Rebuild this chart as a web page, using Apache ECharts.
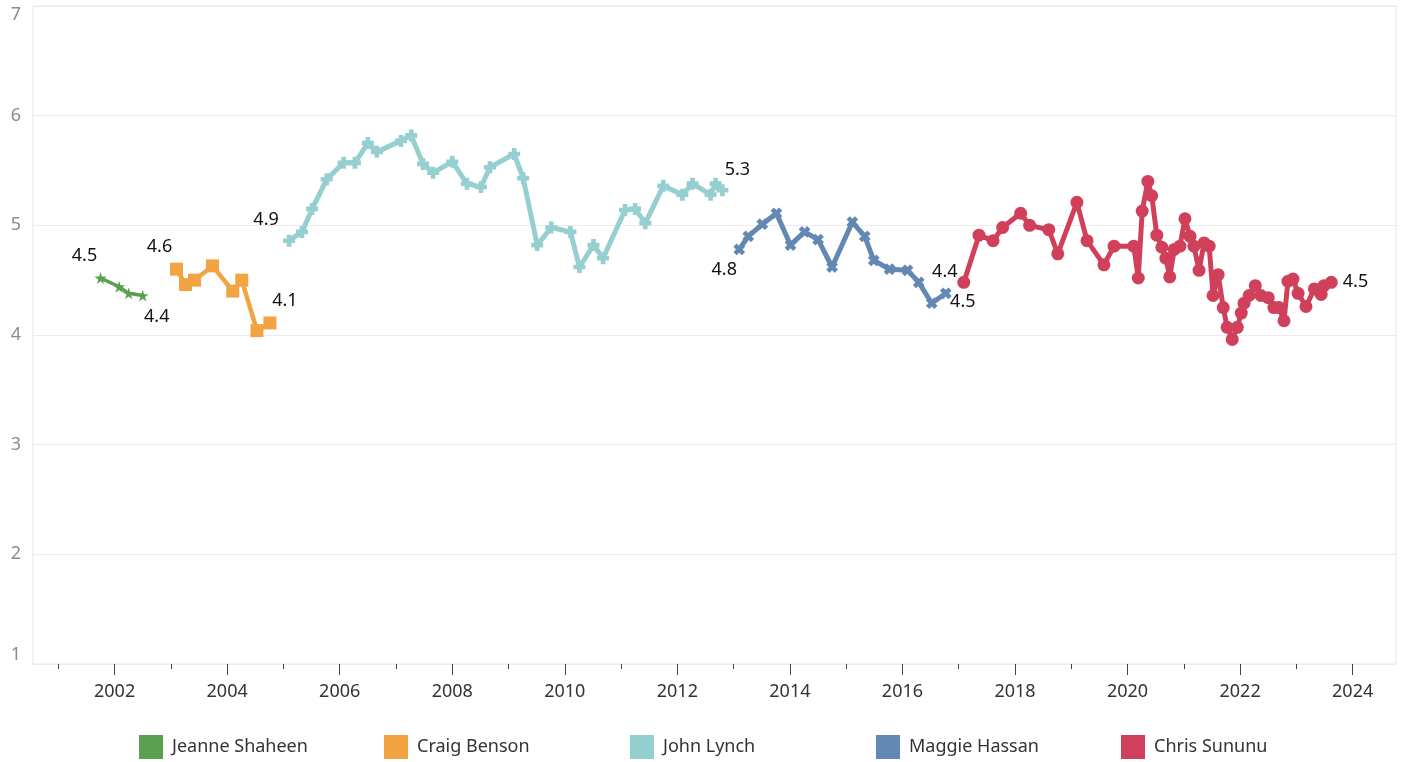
<!DOCTYPE html>
<html>
<head>
<meta charset="utf-8">
<title>NH governors</title>
<script src="https://cdn.jsdelivr.net/npm/echarts@6/dist/echarts.min.js"></script>
<style>
    html, body { margin: 0; padding: 0; background: #fff; }
    #chart { width: 1401px; height: 762px; }
</style>
</head>
<body>
<div id="chart"></div>
<script>
// 各任州长的数据 (年份, 数值)
var shaheenYears = [2001.75, 2002.08, 2002.25, 2002.5];
var shaheenValues = [4.52, 4.44, 4.38, 4.36];

var bensonYears = [2003.10, 2003.26, 2003.42, 2003.74, 2004.10, 2004.26, 2004.53, 2004.76];
var bensonValues = [4.60, 4.46, 4.50, 4.63, 4.40, 4.50, 4.04, 4.11];

var lynchYears = [2005.10, 2005.33, 2005.51, 2005.77, 2006.07, 2006.27, 2006.50, 2006.66, 2007.09, 2007.27,
    2007.48, 2007.66, 2008.00, 2008.26, 2008.51, 2008.67, 2009.10, 2009.26, 2009.51, 2009.76,
    2010.10, 2010.26, 2010.51, 2010.68, 2011.07, 2011.25, 2011.43, 2011.75, 2012.09, 2012.27,
    2012.59, 2012.68, 2012.80];
var lynchValues = [4.86, 4.94, 5.15, 5.42, 5.57, 5.57, 5.75, 5.67, 5.77, 5.82,
    5.56, 5.48, 5.58, 5.38, 5.35, 5.53, 5.65, 5.43, 4.82, 4.98,
    4.94, 4.62, 4.82, 4.70, 5.14, 5.15, 5.02, 5.36, 5.28, 5.38,
    5.28, 5.38, 5.32];

var hassanYears = [2013.10, 2013.26, 2013.51, 2013.76, 2014.01, 2014.26, 2014.50, 2014.75, 2015.11, 2015.33,
    2015.49, 2015.77, 2016.09, 2016.29, 2016.52, 2016.77];
var hassanValues = [4.78, 4.90, 5.01, 5.11, 4.82, 4.94, 4.87, 4.62, 5.03, 4.90,
    4.68, 4.60, 4.59, 4.48, 4.29, 4.38];

var sununuYears = [2017.09, 2017.36, 2017.61, 2017.78, 2018.10, 2018.26, 2018.60, 2018.76, 2019.10, 2019.28,
    2019.58, 2019.76, 2020.11, 2020.19, 2020.26, 2020.36, 2020.43, 2020.52, 2020.61, 2020.68,
    2020.75, 2020.83, 2020.93, 2021.02, 2021.11, 2021.18, 2021.27, 2021.36, 2021.45, 2021.52,
    2021.61, 2021.70, 2021.77, 2021.86, 2021.95, 2022.02, 2022.07, 2022.16, 2022.27, 2022.37,
    2022.50, 2022.60, 2022.69, 2022.78, 2022.85, 2022.94, 2023.03, 2023.17, 2023.32, 2023.44,
    2023.49, 2023.62];
var sununuValues = [4.48, 4.91, 4.86, 4.98, 5.11, 5.00, 4.96, 4.74, 5.21, 4.86,
    4.64, 4.81, 4.81, 4.52, 5.13, 5.40, 5.27, 4.91, 4.80, 4.70,
    4.53, 4.78, 4.81, 5.06, 4.90, 4.81, 4.59, 4.84, 4.81, 4.36,
    4.55, 4.25, 4.07, 3.96, 4.07, 4.20, 4.29, 4.36, 4.45, 4.36,
    4.34, 4.25, 4.25, 4.13, 4.49, 4.51, 4.38, 4.26, 4.42, 4.37,
    4.45, 4.48];

var majorYears = [2002, 2004, 2006, 2008, 2010, 2012, 2014, 2016, 2018, 2020, 2022, 2024];
var minorYears = [2001, 2003, 2005, 2007, 2009, 2011, 2013, 2015, 2017, 2019, 2021, 2023];

var names = ['Jeanne Shaheen', 'Craig Benson', 'John Lynch', 'Maggie Hassan', 'Chris Sununu'];

var FONT = '"Noto Sans", "DejaVu Sans", sans-serif';

// 符号
var STAR = 'path://M50,0L61,35H98L68,57L79,91L50,70L21,91L32,57L2,35H39Z';
var PLUS = 'path://M4,0H9V4H13V9H9V13H4V9H0V4H4Z';

// 拼数据, 首尾点加标签
function build(years, values, firstOffset, lastOffset, lastPos) {
    var data = [];
    for (var i = 0; i < years.length; i++) {
        var item = { value: [years[i], values[i]] };
        if (i === 0) {
            item.label = { show: true, position: 'inside', offset: firstOffset };
        }
        if (i === years.length - 1) {
            item.label = lastPos ?
                { show: true, position: lastPos, distance: 5 } :
                { show: true, position: 'inside', offset: lastOffset };
        }
        data.push(item);
    }
    return data;
}

function line(name, color, symbol, size, width, data, extra) {
    var s = {
        name: name,
        type: 'line',
        xAxisIndex: 0,
        data: data,
        symbol: symbol,
        symbolSize: size,
        showAllSymbol: true,
        lineStyle: { color: color, width: width },
        itemStyle: { color: color },
        label: {
            color: '#111',
            fontSize: 18,
            fontFamily: FONT,
            formatter: function(p) { return p.value[1].toFixed(1); }
        },
        emphasis: { disabled: true },
        z: 3
    };
    for (var k in extra) s[k] = extra[k];
    return s;
}

// 图例 每项单独定位
var legendLeft = [139, 384, 630, 876, 1121];
var legends = names.map(function(n, i) {
    return {
        top: 735,
        left: legendLeft[i],
        padding: 0,
        itemWidth: 24,
        itemHeight: 24,
        icon: 'rect',
        textStyle: { color: '#333', fontSize: 18, fontFamily: FONT, padding: [0, 0, 0, 4] },
        data: [n]
    };
});

var option = {
    animation: false,
    backgroundColor: '#fff',
    grid: {
        left: 33,
        right: 5,
        top: 6,
        bottom: 98,
        show: true,
        borderColor: '#e6e6e6',
        borderWidth: 1
    },
    legend: legends,
    xAxis: [{
        type: 'value',
        min: 2000.55,
        max: 2024.77,
        position: 'bottom',
        axisLine: { show: false },
        splitLine: { show: false },
        axisTick: {
            show: true,
            customValues: majorYears,
            length: 11,
            lineStyle: { color: '#444' }
        },
        axisLabel: {
            customValues: majorYears,
            formatter: function(v) { return String(v); },
            color: '#333',
            fontSize: 18,
            fontFamily: FONT,
            margin: 19
        }
    }, {
        // 奇数年的短刻度
        type: 'value',
        min: 2000.55,
        max: 2024.77,
        position: 'bottom',
        axisLine: { show: false },
        splitLine: { show: false },
        axisLabel: { show: false },
        axisTick: {
            show: true,
            customValues: minorYears,
            length: 5,
            lineStyle: { color: '#444' }
        }
    }],
    yAxis: {
        type: 'value',
        min: 1,
        max: 7,
        interval: 1,
        axisLine: { show: false },
        axisTick: { show: false },
        splitLine: { lineStyle: { color: '#ececec' } },
        axisLabel: {
            color: '#8c8c8c',
            fontSize: 18,
            fontFamily: FONT,
            margin: 12,
            verticalAlignMaxLabel: 'top',
            verticalAlignMinLabel: 'bottom'
        }
    },
    series: [
        line(names[0], '#59a14f', STAR, 12, 3.5,
            build(shaheenYears, shaheenValues, [-16, -22], [14, 21])),
        line(names[1], '#f2a443', 'rect', 13, 4.5,
            build(bensonYears, bensonValues, [-17, -22], [15, -22])),
        line(names[2], '#96cfcf', PLUS, 12, 5,
            build(lynchYears, lynchValues, [-23, -21], [15, -20])),
        line(names[3], '#6388b4', PLUS, 12, 5,
            build(hassanYears, hassanValues, [-15, 20], [-1, -21]), { symbolRotate: 45 }),
        line(names[4], '#d1405a', 'circle', 13, 5,
            build(sununuYears, sununuValues, [-1, 20], null, 'right'))
    ]
};

var myChart = echarts.init(document.getElementById('chart'));
myChart.setOption(option);
</script>
</body>
</html>
